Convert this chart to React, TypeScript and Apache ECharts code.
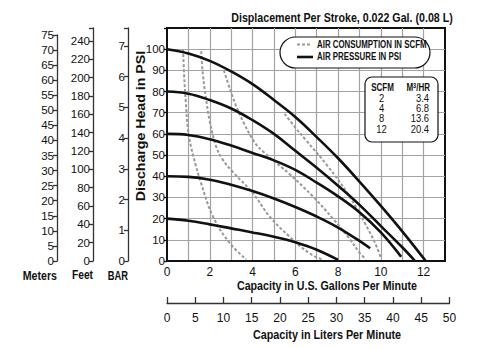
import React, { useEffect, useRef } from "react";
import * as echarts from "echarts";

// ---- data ----
// Air pressure curves: [gpm, discharge head psi]
const psi100 = [[0, 100], [1, 98], [2, 94.5], [3, 89.5], [4, 83.5], [5, 76], [6, 68], [7, 58.5], [8, 48.5], [9, 37.5], [10, 26], [11, 14], [12.1, 0]];
const psi80 = [[0, 80], [1, 79], [2, 76], [3, 72], [4, 66.5], [5, 60], [6, 52], [7, 44], [8, 35.5], [9, 26.5], [10, 16.5], [11, 6.5], [11.6, 0]];
const psi60 = [[0, 60], [1, 59.5], [2, 57.5], [3, 54.5], [4, 51], [5, 47.5], [6, 43], [7, 37], [8, 30.5], [9, 23], [10, 13.5], [10.95, 2]];
const psi40 = [[0, 40], [1, 39.7], [2, 38.4], [3, 36], [4, 33], [5, 29.5], [6, 25.5], [7, 21], [8, 15.8], [9, 9.5], [9.5, 6]];
const psi20 = [[0, 20], [1, 19], [2, 17.3], [3, 15.4], [4, 13.5], [5, 11.4], [6, 8.8], [7, 5.3], [8, 0.5]];

// Air consumption curves (SCFM): [gpm, psi]
const scfm2 = [[0.75, 100], [0.8, 88], [0.88, 75], [0.97, 63], [1.12, 54], [1.35, 45], [1.6, 36.5], [2.15, 21], [2.93, 8.5], [3.7, 0.8]];
const scfm4 = [[1.6, 99], [1.68, 88], [1.82, 77], [2.0, 66], [2.3, 54], [2.6, 48], [3.08, 42], [4.02, 32], [4.8, 21], [5.73, 11.5], [6.67, 3.6], [7.3, 0.5]];
const scfm8 = [[2.66, 90], [2.85, 84], [3.2, 74], [3.6, 65], [4.1, 56], [4.57, 51], [5.73, 41], [6.82, 30.5], [7.76, 20], [8.5, 11], [9.0, 4], [9.3, 0.8]];
const scfm12 = [[5.5, 69.5], [6.0, 63], [6.5, 57], [7.5, 45], [8.5, 31], [9.3, 17], [9.75, 8], [10, 1.5]];

const scfmLabels = ["2", "4", "8", "12"];
const tableScfm = ["2", "4", "8", "12"];
const tableM3hr = ["3.4", "6.8", "13.6", "20.4"];

const titleText = "Displacement Per Stroke, 0.022 Gal. (0.08 L)";
const legendTexts = ["AIR CONSUMPTION IN SCFM", "AIR PRESSURE IN PSI"];

// unit conversions
const PSI_MAX = 110;
const FT_PER_PSI = 2.31;
const PSI_PER_BAR = 14.5038;
const GPM_MAX = 13;
const LPM_MAX = 50;
const L_PER_GAL = 3.785;

const FONT = "'Liberation Sans', Arial, Helvetica, sans-serif";

function txt(
  text: string,
  x: number,
  y: number,
  size: number,
  opts: { bold?: boolean; align?: string; sx?: number; rot?: number; z?: number; rich?: any } = {}
) {
  const align = opts.align || "center";
  return {
    type: "text",
    x,
    y,
    z: opts.z ?? 50,
    scaleX: opts.sx ?? 1,
    rotation: opts.rot ?? 0,
    style: {
      text,
      fontSize: size,
      fontWeight: opts.bold ? "bold" : "normal",
      fontFamily: FONT,
      fill: "#111",
      align,
      verticalAlign: "middle",
      textAlign: align,
      textVerticalAlign: "middle",
      rich: opts.rich,
    },
  };
}

export default function App() {
  const ref = useRef<HTMLDivElement>(null);

  useEffect(() => {
    if (!ref.current) return;
    const chart = echarts.init(ref.current, null, { renderer: "svg" });

    const gridLeft = 167;
    const gridTop = 28;
    const gridW = 278;
    const gridH = 233;
    const pxPerGal = gridW / GPM_MAX;
    const litersW = (LPM_MAX / L_PER_GAL) * pxPerGal;

    const axisLabel = { fontFamily: FONT, fontSize: 11.5, color: "#111" };

    const pressure = [psi100, psi80, psi60, psi40, psi20].map((d, i) => ({
      type: "line",
      name: "p" + i,
      xAxisIndex: 0,
      yAxisIndex: 0,
      data: d,
      smooth: 0.4,
      symbol: "none",
      lineStyle: { color: "#111", width: 2.6 },
      z: 4,
    }));

    const air = [scfm2, scfm4, scfm8, scfm12].map((d, i) => ({
      type: "line",
      name: "a" + i,
      xAxisIndex: 0,
      yAxisIndex: 0,
      data: d.map((p, j) =>
        j === 0
          ? {
              value: p,
              label: {
                show: true,
                position: "top",
                distance: 3,
                formatter: scfmLabels[i],
                fontFamily: FONT,
                fontSize: 12,
                color: "#111",
              },
            }
          : { value: p }
      ),
      smooth: 0.4,
      symbol: "none",
      lineStyle: { color: "#999", width: 2, type: [3, 2] },
      z: 3,
    }));

    const graphic: any[] = [
      txt(titleText, 342, 18, 13.5, { bold: true, sx: 0.79 }),
      // legend box
      {
        type: "rect",
        z: 100,
        shape: { x: 280, y: 37, width: 150, height: 31, r: 15.5 },
        style: { fill: "#fff", stroke: "#111", lineWidth: 1.2 },
      },
      {
        type: "line",
        z: 101,
        shape: { x1: 297, y1: 44.5, x2: 312, y2: 44.5 },
        style: { stroke: "#999", lineWidth: 2, lineDash: [3, 2] },
      },
      {
        type: "line",
        z: 101,
        shape: { x1: 297, y1: 57, x2: 313, y2: 57 },
        style: { stroke: "#111", lineWidth: 2.6 },
      },
      ...legendTexts.map((t, i) => txt(t, 317, i === 0 ? 44.5 : 57, 10, { bold: true, align: "left", sx: 0.79, z: 101 })),
      // table box
      {
        type: "rect",
        z: 100,
        shape: { x: 365, y: 77, width: 73, height: 65, r: 7 },
        style: { fill: "#fff", stroke: "#111", lineWidth: 1.2 },
      },
      txt("SCFM", 382.5, 88, 10, { bold: true, sx: 0.8, z: 101 }),
      txt("M{s|3}/HR", 430, 88, 10, {
        bold: true,
        align: "right",
        sx: 0.8,
        z: 101,
        rich: {
          s: { fontSize: 7, fontWeight: "bold", fontFamily: FONT, verticalAlign: "top", padding: [0, 0, 5, 0], fill: "#111" },
        },
      }),
      ...tableScfm.map((t, i) => txt(t, 381.5, 98 + i * 10.3, 10.5, { sx: 0.9, z: 101 })),
      ...tableM3hr.map((t, i) => txt(t, 429, 98 + i * 10.3, 10.5, { align: "right", sx: 0.9, z: 101 })),
      // axis titles
      txt("Capacity in U.S. Gallons Per Minute", 327, 286, 13.5, { bold: true, sx: 0.79 }),
      txt("Capacity in Liters Per Minute", 327, 335, 13.5, { bold: true, sx: 0.8 }),
      txt("Discharge Head in PSI", 140, 126, 13.5, { bold: true, sx: 1.05, rot: Math.PI / 2 }),
      txt("Meters", 57, 275, 12.5, { bold: true, align: "right", sx: 0.85 }),
      txt("Feet", 93, 275, 12.5, { bold: true, align: "right", sx: 0.82 }),
      txt("BAR", 128, 275, 12.5, { bold: true, align: "right", sx: 0.75 }),
    ];

    const sideAxis = (extra: any) => ({
      type: "value",
      position: "left",
      axisLine: { show: true, lineStyle: { color: "#333", width: 1.3 } },
      axisTick: { show: true, length: 4, lineStyle: { color: "#333", width: 1.3 } },
      splitLine: { show: false },
      ...extra,
    });

    const option: any = {
      animation: false,
      backgroundColor: "#fff",
      grid: [
        {
          left: gridLeft,
          top: gridTop,
          width: gridW,
          height: gridH,
          show: true,
          borderColor: "#111",
          borderWidth: 2,
          backgroundColor: "transparent",
        },
        { left: gridLeft, top: 295, width: litersW, height: 8 },
        { left: 57, top: 35, width: 1, height: 226 },
      ],
      xAxis: [
        {
          type: "value",
          gridIndex: 0,
          min: 0,
          max: GPM_MAX,
          interval: 1,
          axisLine: { show: true, lineStyle: { color: "#111", width: 2 } },
          axisTick: { show: false },
          axisLabel: {
            ...axisLabel,
            fontSize: 12,
            margin: 5,
            formatter: (v: number) => (v % 2 === 0 && v <= 12 ? String(v) : ""),
          },
          splitLine: {
            show: true,
            showMinLine: false,
            showMaxLine: false,
            lineStyle: { color: "#a3a3a3", width: 1.2 },
          },
        },
        {
          type: "value",
          gridIndex: 1,
          min: 0,
          max: LPM_MAX,
          interval: 5,
          position: "bottom",
          axisLine: { show: true, lineStyle: { color: "#333", width: 1.3 } },
          axisTick: { show: true, inside: true, length: 6, lineStyle: { color: "#333", width: 1.3 } },
          axisLabel: { ...axisLabel, fontSize: 12, margin: 9 },
          splitLine: { show: false },
        },
        { type: "value", gridIndex: 2, show: false, min: 0, max: 1 },
      ],
      yAxis: [
        {
          type: "value",
          gridIndex: 0,
          min: 0,
          max: PSI_MAX,
          interval: 10,
          position: "left",
          axisLine: { show: true, lineStyle: { color: "#111", width: 2 } },
          axisTick: { show: true, length: 3, lineStyle: { color: "#111", width: 1.3 } },
          axisLabel: {
            ...axisLabel,
            margin: 2,
            formatter: (v: number) => (v <= 100 ? String(v) : ""),
          },
          splitLine: {
            show: true,
            showMinLine: false,
            showMaxLine: false,
            lineStyle: { color: "#a3a3a3", width: 1.2 },
          },
        },
        sideAxis({
          gridIndex: 0,
          min: 0,
          max: PSI_MAX / PSI_PER_BAR,
          interval: 1,
          offset: 39,
          axisLabel: {
            ...axisLabel,
            margin: 3,
            formatter: (v: number) => (Math.abs(v - Math.round(v)) < 1e-6 ? String(Math.round(v)) : ""),
          },
        }),
        sideAxis({
          gridIndex: 0,
          min: 0,
          max: PSI_MAX * FT_PER_PSI,
          interval: 20,
          offset: 74,
          axisLabel: {
            ...axisLabel,
            margin: 3,
            formatter: (v: number) => (Math.abs(v % 20) < 1e-6 ? String(v) : ""),
          },
        }),
        { type: "value", gridIndex: 1, show: false, min: 0, max: 1 },
        sideAxis({
          gridIndex: 2,
          min: 0,
          max: 75,
          interval: 5,
          axisLabel: { ...axisLabel, margin: 3 },
        }),
      ],
      series: [...pressure, ...air],
      graphic,
    };

    chart.setOption(option);
    return () => chart.dispose();
  }, []);

  return (
    <div
      ref={ref}
      style={{ position: "fixed", left: 0, top: 0, width: 501, height: 348, background: "#fff" }}
    />
  );
}
